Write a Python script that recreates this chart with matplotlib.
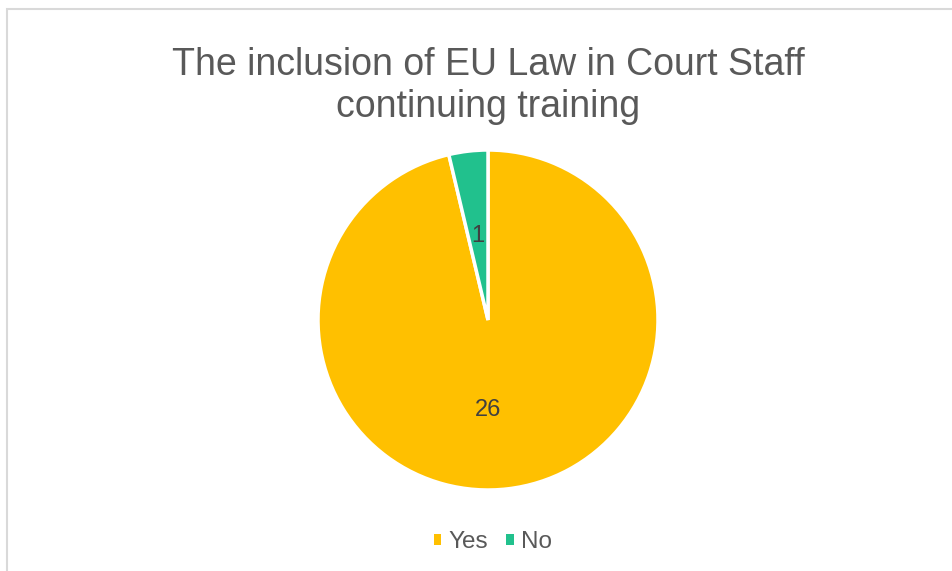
import matplotlib

matplotlib.use("Agg")
import matplotlib.pyplot as plt
from matplotlib.patches import Rectangle

plt.rcParams["font.family"] = ["Liberation Sans", "DejaVu Sans"]

categories = ["Yes", "No"]
counts = [26, 1]
colors = ["#FFC000", "#21C18D"]
title = "The inclusion of EU Law in Court Staff\ncontinuing training"

W, H, DPI = 953, 571, 100
fig = plt.figure(figsize=(W / DPI, H / DPI), dpi=DPI)
fig.patch.set_facecolor("white")

# chart-area border (only left/top visible in the crop)
fig.patches.append(Rectangle((7.5 / W, -0.1), 1.2, 1.1 - 8.5 / H, transform=fig.transFigure,
                             fill=False, edgecolor="#D9D9D9", lw=1.5))

# pie centre (488, 320), radius 170 px
cx, cy, r = 488, 320, 170
ax = fig.add_axes([(cx - r) / W, (H - cy - r) / H, 2 * r / W, 2 * r / H])
wedges, _ = ax.pie(counts, colors=colors, startangle=90, counterclock=False,
                   wedgeprops=dict(edgecolor="white", linewidth=2.5))
ax.set_xlim(-1, 1); ax.set_ylim(-1, 1); ax.set_aspect("auto"); ax.axis("off")

label_pos = [(488, 410), (478, 236)]
for (x, y), v in zip(label_pos, counts):
    fig.text(x / W, 1 - y / H, str(v), ha="center", va="center", fontsize=17, color="#404040")

fig.text(488 / W, 1 - 86 / H, title, ha="center", va="center", fontsize=27,
         color="#595959", linespacing=1.24)

leg = fig.legend(wedges, categories, loc="center", bbox_to_anchor=(493 / W, 1 - 542 / H),
                 ncol=2, frameon=False, fontsize=17.5, handlelength=0.3, handleheight=0.3,
                 handletextpad=0.3, columnspacing=0.75, labelcolor="#595959")
for h in leg.legend_handles:
    h.set_edgecolor("none")

fig.savefig("out.png", dpi=DPI, facecolor="white")
